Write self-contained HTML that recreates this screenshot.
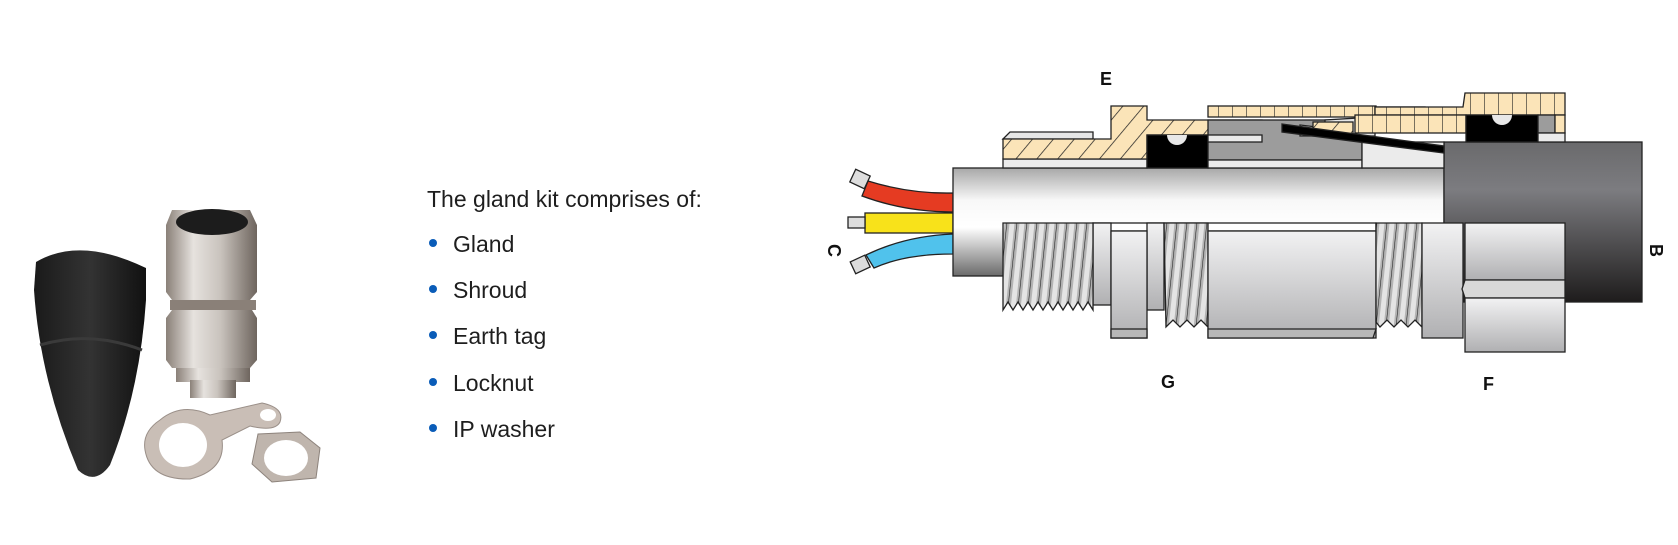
<!DOCTYPE html>
<html><head><meta charset="utf-8"><style>
html,body{margin:0;padding:0;background:#fff;}
body{width:1678px;height:545px;position:relative;overflow:hidden;font-family:"Liberation Sans",sans-serif;}
.t{position:absolute;color:#1e1e1e;font-size:23px;white-space:nowrap;}
.b{position:absolute;width:8px;height:8px;border-radius:50%;background:#0a5cb8;}
</style></head><body>
<div class="t" style="left:427px;top:186px;">The gland kit comprises of:</div>
<div class="b" style="left:429px;top:239px"></div><div class="t" style="left:453px;top:231px;">Gland</div>
<div class="b" style="left:429px;top:285px"></div><div class="t" style="left:453px;top:277px;">Shroud</div>
<div class="b" style="left:429px;top:331px"></div><div class="t" style="left:453px;top:323px;">Earth tag</div>
<div class="b" style="left:429px;top:378px"></div><div class="t" style="left:453px;top:370px;">Locknut</div>
<div class="b" style="left:429px;top:424px"></div><div class="t" style="left:453px;top:416px;">IP washer</div>

<svg width="1678" height="545" style="position:absolute;left:0;top:0" xmlns="http://www.w3.org/2000/svg">
<defs>
<linearGradient id="cone" x1="0" x2="1"><stop offset="0" stop-color="#1a1a1a"/><stop offset=".5" stop-color="#333"/><stop offset="1" stop-color="#111"/></linearGradient>
<linearGradient id="met" x1="0" x2="1"><stop offset="0" stop-color="#8a8078"/><stop offset=".3" stop-color="#e6e2de"/><stop offset=".6" stop-color="#c9c3bd"/><stop offset="1" stop-color="#6e655e"/></linearGradient>
<linearGradient id="cab" x1="0" y1="0" x2="0" y2="1"><stop offset="0" stop-color="#a8a8a8"/><stop offset=".3" stop-color="#f8f8f8"/><stop offset=".55" stop-color="#fff"/><stop offset="1" stop-color="#6a6a6a"/></linearGradient>
<linearGradient id="blk" x1="0" y1="0" x2="0" y2="1"><stop offset="0" stop-color="#6a6a6c"/><stop offset=".3" stop-color="#7c7c80"/><stop offset="1" stop-color="#1e1c1c"/></linearGradient>
<linearGradient id="part" x1="0" y1="0" x2="0" y2="1"><stop offset="0" stop-color="#f2f2f3"/><stop offset="1" stop-color="#b0b0b2"/></linearGradient>
<pattern id="hatch" width="16" height="16" patternUnits="userSpaceOnUse" patternTransform="rotate(40)"><rect width="16" height="16" fill="#fbe4b8"/><line x1="0" y1="0" x2="0" y2="16" stroke="#222" stroke-width="1.5"/></pattern>
<pattern id="grid" width="14" height="40" patternUnits="userSpaceOnUse"><rect width="14" height="40" fill="#fbe4b8"/><line x1="0" y1="0" x2="0" y2="40" stroke="#222" stroke-width="1.2"/></pattern>
<pattern id="thr" width="10" height="120" patternUnits="userSpaceOnUse" patternTransform="skewX(-6)"><rect width="10" height="120" fill="#b4b4b4"/><rect x="3" width="5" height="120" fill="#e4e4e4"/><line x1="0" y1="0" x2="0" y2="120" stroke="#222" stroke-width="1.2"/></pattern>
</defs>

<!-- photo left -->
<path d="M36 262 Q80 236 146 268 L146 300 Q140 390 110 465 Q95 486 78 470 Q40 380 34 290 Z" fill="url(#cone)"/>
<path d="M40 345 Q90 330 142 350" stroke="#3a3a3a" stroke-width="3" fill="none"/>
<polygon points="172,210 250,210 257,225 257,292 250,300 172,300 166,292 166,225" fill="url(#met)"/>
<ellipse cx="212" cy="222" rx="36" ry="13" fill="#1c1c1c"/>
<rect x="170" y="300" width="86" height="10" fill="#8a8078"/>
<polygon points="172,310 252,310 257,318 257,360 250,368 172,368 166,360 166,318" fill="url(#met)"/>
<rect x="176" y="368" width="74" height="14" fill="url(#met)"/>
<rect x="190" y="380" width="46" height="18" fill="url(#met)"/>
<path d="M160 420 Q182 402 210 415 L262 403 Q285 408 280 422 Q275 432 250 426 L222 440 Q226 470 190 479 Q150 480 145 450 Q142 432 160 420 Z" fill="#c9beb6" stroke="#9a8f88"/>
<ellipse cx="183" cy="445" rx="24" ry="22" fill="#fff"/>
<ellipse cx="268" cy="415" rx="8" ry="6" fill="#fff"/>
<polygon points="258,434 300,432 320,448 316,478 272,482 252,464" fill="#bfb5ad" stroke="#8d837c"/>
<ellipse cx="286" cy="458" rx="22" ry="18" fill="#fff"/>

<!-- diagram -->
<g stroke="#222" stroke-width="1.3">
<path d="M868 181 Q910 194 953 193 L953 212 Q905 212 862 196 Z" fill="#e53b22"/>
<rect x="852" y="172" width="16" height="14" fill="#ddd" transform="rotate(25 860 179)"/>
<rect x="865" y="213" width="88" height="20" fill="#f8e21a"/>
<rect x="848" y="217" width="17" height="11" fill="#ddd"/>
<path d="M953 234 L953 254 Q905 254 874 268 L866 255 Q905 236 953 234 Z" fill="#50c2ec"/>
<rect x="852" y="258" width="16" height="13" fill="#ddd" transform="rotate(-25 860 264)"/>
<rect x="953" y="168" width="491" height="108" fill="url(#cab)"/>
<rect x="1444" y="142" width="198" height="160" fill="url(#blk)"/>
<rect x="1003" y="159" width="144" height="9" fill="#ebebeb"/>
<polygon points="1010,132 1093,132 1093,139 1003,139" fill="#e6e6e6"/>
<polygon points="1003,139 1111,139 1111,106 1147,106 1147,120 1262,120 1262,135 1147,135 1147,159 1003,159" fill="url(#hatch)"/>
<rect x="1147" y="135" width="61" height="33" fill="#000"/>
<path d="M1167 135 A10 10 0 0 0 1187 135 Z" fill="#e8e8e8" stroke="none"/>
<rect x="1208" y="120" width="154" height="40" fill="#9c9c9c"/>
<rect x="1208" y="135" width="54" height="7" fill="#ebebeb"/>
<rect x="1208" y="160" width="154" height="8" fill="#ebebeb"/>
<rect x="1208" y="106" width="168" height="11" fill="url(#grid)"/>
<rect x="1362" y="142" width="82" height="26" fill="#ebebeb"/>
<polygon points="1300,125 1325,128 1325,120 1375,117 1375,136 1300,136" fill="#e6e6e6"/>
<rect x="1313" y="122" width="40" height="13" fill="url(#hatch)"/>
<rect x="1375" y="107" width="50" height="8" fill="url(#grid)"/>
<polygon points="1423,107 1463,107 1465,93 1565,93 1565,115 1375,115 1375,107" fill="url(#grid)"/>
<rect x="1355" y="115" width="111" height="18" fill="url(#grid)"/>
<rect x="1466" y="115" width="72" height="27" fill="#000"/>
<path d="M1492 115 A10 10 0 0 0 1512 115 Z" fill="#e8e8e8" stroke="none"/>
<rect x="1538" y="115" width="17" height="18" fill="#9c9c9c"/>
<rect x="1555" y="115" width="10" height="18" fill="#fbe4b8"/>
<rect x="1538" y="133" width="27" height="9" fill="#ebebeb"/>
<polygon points="1282,124 1444,146 1444,153 1282,132" fill="#000"/>
<rect x="1093" y="223" width="283" height="8" fill="#fff"/>
<rect x="1093" y="223" width="18" height="82" fill="url(#part)"/>
<rect x="1147" y="223" width="17" height="87" fill="url(#part)"/>
<path d="M1003 223 H1093 V310 L1088 302 1083 310 1078 302 1073 310 1068 302 1063 310 1058 302 1053 310 1048 302 1043 310 1038 302 1033 310 1028 302 1023 310 1018 302 1013 310 1008 302 1003 310 Z" fill="url(#thr)"/>
<rect x="1111" y="231" width="36" height="107" fill="url(#part)"/>
<rect x="1111" y="329" width="36" height="9" fill="#b8b8b8"/>
<path d="M1164 223 H1208 V327 L1201 320 1194 327 1187 320 1180 327 1173 320 1166 327 Z" fill="url(#thr)"/>
<rect x="1208" y="231" width="168" height="107" fill="url(#part)"/>
<path d="M1208 329 H1376 L1373 338 H1208 Z" fill="#b8b8b8"/>
<path d="M1376 223 H1422 V327 L1415 320 1408 327 1401 320 1394 327 1387 320 1380 327 1376 322 Z" fill="url(#thr)"/>
<rect x="1422" y="223" width="41" height="115" fill="url(#part)"/>
<rect x="1465" y="223" width="100" height="57" fill="url(#part)"/>
<polygon points="1465,280 1565,280 1565,298 1465,298 1462,289" fill="#d8d8d8"/>
<rect x="1465" y="298" width="100" height="54" fill="url(#part)"/>
</g>
<g font-family="Liberation Sans,sans-serif" font-size="18" fill="#111" font-weight="bold">
<text x="1100" y="85">E</text>
<text x="1161" y="388">G</text>
<text x="1483" y="390">F</text>
<text transform="translate(828,244) rotate(90)">C</text>
<text transform="translate(1650,244) rotate(90)">B</text>
</g>
</svg>
</body></html>
